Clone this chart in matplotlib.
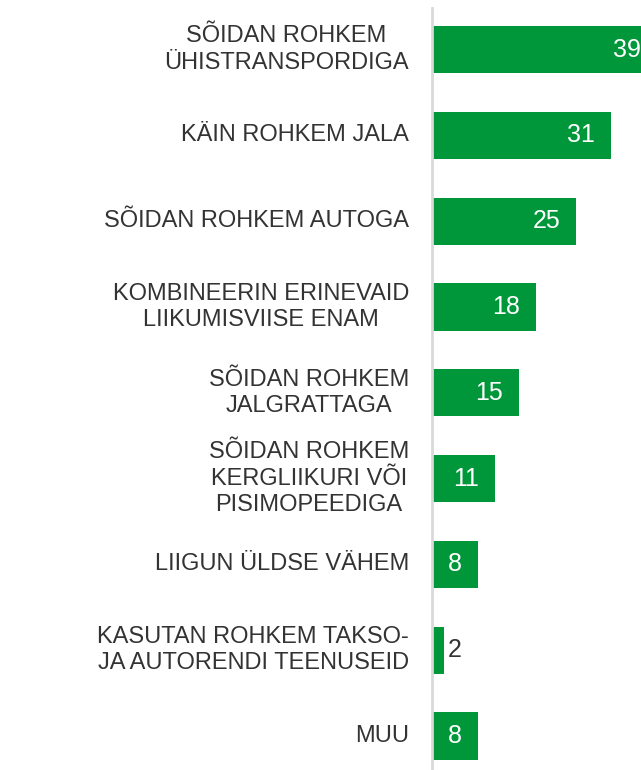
import matplotlib.pyplot as plt
import numpy as np

plt.rcParams['font.family'] = ['Liberation Sans', 'DejaVu Sans']

labels = [
    "SÕIDAN ROHKEM\nÜHISTRANSPORDIGA",
    "KÄIN ROHKEM JALA",
    "SÕIDAN ROHKEM AUTOGA",
    "KOMBINEERIN ERINEVAID\nLIIKUMISVIISE ENAM",
    "SÕIDAN ROHKEM\nJALGRATTAGA",
    "SÕIDAN ROHKEM\nKERGLIIKURI VÕI\nPISIMOPEEDIGA",
    "LIIGUN ÜLDSE VÄHEM",
    "KASUTAN ROHKEM TAKSO-\nJA AUTORENDI TEENUSEID",
    "MUU",
]
values = [39, 31, 25, 18, 15, 11, 8, 2, 8]

green = '#00973A'
text_col = '#333333'

W, H = 641, 770
fig = plt.figure(figsize=(W / 100, H / 100), dpi=100)
# axes spans from the grey baseline to the right edge
ax = fig.add_axes([432 / W, 0, 1 - 432 / W, 1 - 8 / H])

y = np.arange(len(values))
ax.barh(y, values, height=0.55, color=green, left=0)

ax.set_xlim(0, (W - 432) / 5.77)
ax.set_ylim(8.396, -0.484)

for s in ['top', 'right', 'bottom']:
    ax.spines[s].set_visible(False)
ax.spines['left'].set_color('#d9d9d9')
ax.spines['left'].set_linewidth(2)
ax.set_xticks([])
ax.set_yticks([])

px = 1 / 5.77  # one pixel in data units
for yi, v, lab in zip(y, values, labels):
    ax.text(-23 * px, yi, lab, ha='right', va='center', multialignment='center',
            fontsize=17, color=text_col, linespacing=1.25)
    if v >= 5:
        ax.text(v - 16 * px, yi, str(v), ha='right', va='center',
                fontsize=18, color='white')
    else:
        ax.text(v + 4 * px, yi, str(v), ha='left', va='center',
                fontsize=18, color=text_col)

fig.savefig('out.png', dpi=100)
